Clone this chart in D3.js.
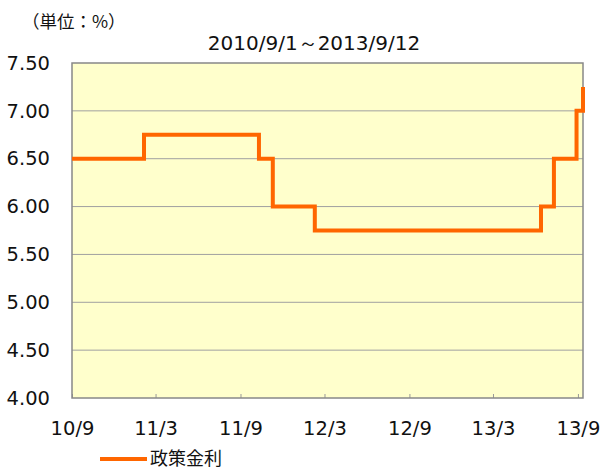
<!DOCTYPE html>
<html>
<head>
<meta charset="utf-8">
<script src="https://cdn.jsdelivr.net/npm/d3@7"></script>
<style>
  body { margin: 0; background: #fff; }
  svg { display: block; font-family: "DejaVu Sans", Verdana, sans-serif; }
</style>
</head>
<body>
<svg id="graph_rate"></svg>
<script>
// change points of the policy rate (step series)
var rateDates = ["2010-09-01", "2011-02-04", "2011-10-11", "2011-11-10", "2012-02-09",
                 "2013-06-13", "2013-07-11", "2013-08-29", "2013-09-12"];
var rateValues = [6.50, 6.75, 6.50, 6.00, 5.75, 6.00, 6.50, 7.00, 7.25];

var tickDates = ["2010-09-01", "2011-03-01", "2011-09-01", "2012-03-01", "2012-09-01", "2013-03-01", "2013-09-01"];
var tickLabels = ["10/9", "11/3", "11/9", "12/3", "12/9", "13/3", "13/9"];
var yTicks = [4.00, 4.50, 5.00, 5.50, 6.00, 6.50, 7.00, 7.50];

var dateStart = "2010-09-01", dateEnd = "2013-09-12";
var title = "2010/9/1\uFF5E2013/9/12";
var unitLabel = "\uFF08\u5358\u4F4D\uFF1A%\uFF09";
var seriesName = "\u653F\u7B56\u91D1\u5229";

var parse = d3.timeParse("%Y-%m-%d");

var init_graph = function(id) {
  var svg = d3.select('#' + id)
    .attr("width", 602)
    .attr("height", 470);

  svg.margin = {top: 63, right: 19, bottom: 72, left: 72};
  svg.width = 602 - svg.margin.left - svg.margin.right;
  svg.height = 470 - svg.margin.top - svg.margin.bottom;

  var data = rateDates.map(function(d, i) {
    return {date: parse(d), value: rateValues[i]};
  });

  var x = d3.scaleTime()
    .domain([parse(dateStart), parse(dateEnd)])
    .range([svg.margin.left, svg.margin.left + svg.width]);
  var y = d3.scaleLinear()
    .domain([4, 7.5])
    .range([svg.margin.top + svg.height, svg.margin.top]);

  // plot background
  svg.append("rect")
    .attr("x", svg.margin.left)
    .attr("y", svg.margin.top)
    .attr("width", svg.width)
    .attr("height", svg.height)
    .attr("fill", "#ffffcc");

  // horizontal grid
  svg.append("g")
    .selectAll("line")
    .data(yTicks.slice(1, -1))
    .enter().append("line")
    .attr("x1", svg.margin.left)
    .attr("x2", svg.margin.left + svg.width)
    .attr("y1", d => y(d))
    .attr("y2", d => y(d))
    .attr("stroke", "#a0a0a0")
    .attr("stroke-width", 1);

  // y labels
  var yAxis = d3.axisLeft(y)
    .tickValues(yTicks)
    .tickFormat(d3.format(".2f"))
    .tickSize(0)
    .tickPadding(22);
  svg.append("g")
    .attr("transform", `translate(${svg.margin.left},0)`)
    .call(yAxis)
    .call(g => g.select(".domain").remove())
    .call(g => g.selectAll("text")
      .attr("fill", "#111")
      .style("font-size", "19.5px")
      .style("font-family", "DejaVu Sans, Verdana, sans-serif"));

  // x axis: ticks point inward
  var xAxis = d3.axisBottom(x)
    .tickValues(tickDates.map(parse))
    .tickFormat((d, i) => tickLabels[i])
    .tickSizeInner(-4)
    .tickSizeOuter(0)
    .tickPadding(23);
  svg.append("g")
    .attr("transform", `translate(0,${svg.margin.top + svg.height})`)
    .call(xAxis)
    .call(g => g.select(".domain").remove())
    .call(g => g.selectAll("line").attr("stroke", "#999"))
    .call(g => g.selectAll("text")
      .attr("fill", "#111")
      .style("font-size", "19.5px")
      .style("font-family", "DejaVu Sans, Verdana, sans-serif"));

  // plot frame
  svg.append("rect")
    .attr("x", svg.margin.left)
    .attr("y", svg.margin.top)
    .attr("width", svg.width)
    .attr("height", svg.height)
    .attr("fill", "none")
    .attr("stroke", "#888")
    .attr("stroke-width", 1.5);

  // step line
  var line = d3.line()
    .x(d => x(d.date))
    .y(d => y(d.value))
    .curve(d3.curveStepAfter);
  svg.append("path")
    .datum(data)
    .attr("d", line)
    .attr("fill", "none")
    .attr("stroke", "#ff6600")
    .attr("stroke-width", 4);

  // title & unit
  svg.append("text")
    .attr("x", 314)
    .attr("y", 50)
    .attr("text-anchor", "middle")
    .attr("fill", "#111")
    .style("font-size", "20px")
    .text(title);
  svg.append("text")
    .attr("x", 22)
    .attr("y", 28)
    .attr("fill", "#111")
    .style("font-family", "Noto Sans CJK JP, sans-serif")
    .style("font-size", "17.5px")
    .text(unitLabel);

  // legend
  svg.append("line")
    .attr("x1", 100).attr("x2", 147)
    .attr("y1", 459).attr("y2", 459)
    .attr("stroke", "#ff6600")
    .attr("stroke-width", 4);
  svg.append("text")
    .attr("x", 150)
    .attr("y", 465)
    .attr("fill", "#111")
    .style("font-family", "Noto Sans CJK JP, sans-serif")
    .style("font-size", "18px")
    .text(seriesName);
}

init_graph("graph_rate");
</script>
</body>
</html>
